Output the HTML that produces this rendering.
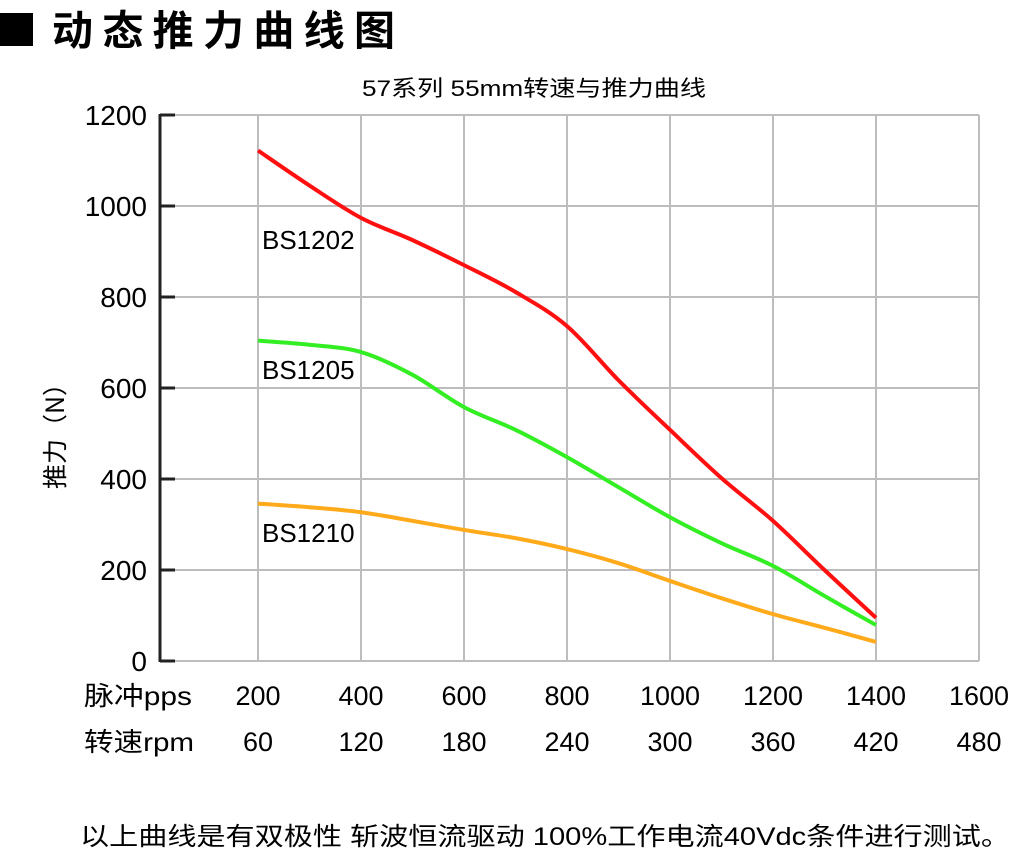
<!DOCTYPE html>
<html><head><meta charset="utf-8"><style>
body{margin:0;background:#fff;width:1019px;height:855px;overflow:hidden;font-family:"Liberation Sans","Noto Sans CJK SC",sans-serif}
</style></head><body>
<svg width="1019" height="855" xmlns="http://www.w3.org/2000/svg">
<rect x="0" y="13" width="33" height="33" fill="#000"/>
<text x="52" y="45" font-size="41" font-weight="bold" textLength="343" lengthAdjust="spacing" font-family="Noto Sans CJK SC, sans-serif">动态推力曲线图</text>
<text x="362" y="96" font-size="22" textLength="344" lengthAdjust="spacingAndGlyphs" font-family="Liberation Sans, Noto Sans CJK SC, sans-serif">57系列 55mm转速与推力曲线</text>
<g id="grid"></g>
<g id="axes"></g>
<g id="series"></g>
<text transform="translate(64,430) rotate(-90)" font-size="25" text-anchor="middle" font-family="Noto Sans CJK SC, sans-serif">推力（N）</text>
<text x="84" y="705" font-size="26" textLength="108" lengthAdjust="spacingAndGlyphs" font-family="Liberation Sans, Noto Sans CJK SC, sans-serif">脉冲pps</text>
<text x="84" y="751" font-size="26" textLength="110" lengthAdjust="spacingAndGlyphs" font-family="Liberation Sans, Noto Sans CJK SC, sans-serif">转速rpm</text>
<text x="80" y="845" font-size="25" textLength="930" lengthAdjust="spacingAndGlyphs" font-family="Liberation Sans, Noto Sans CJK SC, sans-serif">以上曲线是有双极性 斩波恒流驱动 100%工作电流40Vdc条件进行测试。</text>
</svg>
<script>
const xTicks=[200,400,600,800,1000,1200,1400,1600];
const rpmLabels=["60","120","180","240","300","360","420","480"];
const yTicks=[0,200,400,600,800,1000,1200];
const xData=[200,300,400,500,600,700,800,900,1000,1100,1200,1300,1400];
const bs1202=[1122,1045,974,925,870,811,736,617,508,402,308,200,95];
const bs1205=[704,695,679,629,558,508,448,382,316,259,209,143,79];
const bs1210=[346,338,327,308,288,270,246,215,176,138,103,73,42];
const NS="http://www.w3.org/2000/svg";
const X=v=>258+(v-200)*103/200;
const Y=v=>661-v*0.455;
function mk(t,a,p){const e=document.createElementNS(NS,t);for(const k in a)e.setAttribute(k,a[k]);p.appendChild(e);return e;}
const grid=document.getElementById('grid'),axes=document.getElementById('axes'),ser=document.getElementById('series');
yTicks.forEach(v=>{
 const l=mk('line',{x1:160,x2:X(1600),y1:Y(v),y2:Y(v),stroke:'#bdbdbd','stroke-width':2},grid);
 
 
 const t=mk('line',{x1:160,x2:175,y1:Y(v),y2:Y(v),stroke:'#222','stroke-width':3},axes);
 
 
 const tx=mk('text',{x:147,y:Y(v)+10,'font-size':28,'text-anchor':'end'},axes);tx.textContent=v;
 
 
});
xTicks.forEach((v,i)=>{
 const l=mk('line',{x1:X(v),x2:X(v),y1:Y(1200),y2:Y(0),stroke:'#bdbdbd','stroke-width':2},grid);
 
 
 const t=mk('text',{x:X(v),y:705,'font-size':27,'text-anchor':'middle'},axes);t.textContent=v;
 
 
 const r=mk('text',{x:X(v),y:751,'font-size':27,'text-anchor':'middle'},axes);r.textContent=rpmLabels[i];
 
 
});
const ax=mk('line',{x1:160,x2:160,y1:Y(1200)-1,y2:Y(0)+1,stroke:'#222','stroke-width':3},axes);


function path(vals){
 const p=xData.map((x,i)=>[X(x),Y(vals[i])]);
 let d='M'+p[0][0]+','+p[0][1];
 for(let i=0;i<p.length-1;i++){
  const p0=p[i-1]||p[i],p1=p[i],p2=p[i+1],p3=p[i+2]||p2;
  const c1=[p1[0]+(p2[0]-p0[0])/6,p1[1]+(p2[1]-p0[1])/6],c2=[p2[0]-(p3[0]-p1[0])/6,p2[1]-(p3[1]-p1[1])/6];
  d+=` C${c1[0]},${c1[1]} ${c2[0]},${c2[1]} ${p2[0]},${p2[1]}`;
 }
 return d;
}
[[bs1202,'#ff1010','BS1202',240],[bs1205,'#33ee22','BS1205',370],[bs1210,'#ffaa1a','BS1210',533]].forEach(s=>{
 const e=mk('path',{d:path(s[0]),fill:'none',stroke:s[1],'stroke-width':4},ser);
 
 
 const t=mk('text',{x:262,y:s[3]+9,'font-size':26},ser);t.textContent=s[2];
 
 
});
</script>
</body></html>
